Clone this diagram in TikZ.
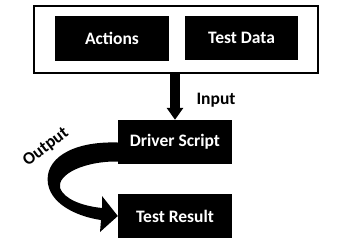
\documentclass[tikz,border=0pt]{standalone}
\usepackage{fontspec}
\setmainfont{Carlito}
\usetikzlibrary{arrows.meta,calc,positioning}

\begin{document}
\begin{tikzpicture}[x=1pt,y=-1pt,
    lbl/.style={font=\bfseries\fontsize{17.5}{19}\selectfont},
    blackbox/.style={lbl,fill=black,text=white,minimum width=114pt,minimum height=44pt,inner sep=0pt}]
  \useasboundingbox (0,0) rectangle (352,250);
  \node[draw,line width=1.3pt,minimum width=284pt,minimum height=67pt] (inputs) at (176,39.5) {};
  \node[blackbox,minimum height=45pt] (actions) at (112,38.5) {Actions};
  \node[blackbox,minimum width=113pt] (testdata) at (241.5,38) {Test Data};
  \node[blackbox] (driver) at (175,142) {Driver Script};
  \node[blackbox] (result) at (175,216) {Test Result};
  \draw[line width=10pt,-{Triangle[width=16pt,length=12pt]}] (inputs.south -| driver.north) -- (driver.north);
  \node[lbl,anchor=west] (inlbl) at (193,100) {Input};
  % curved output arrow
  \fill ($(driver.west)+(0,0.5)$) .. controls (70,141) and (44,160) .. (48,184)
    .. controls (52,206) and (80,217) .. (101,220) -- (100,232) -- (result.west)
    -- (102,196) -- (102,208) .. controls (82,206) and (64,199) .. (60,188)
    .. controls (57,174) and (85,161) .. ($(driver.west)+(0,19.5)$) -- cycle;
  \node[lbl,rotate=37] (outlbl) at (46,147) {Output};
\end{tikzpicture}
\end{document}
